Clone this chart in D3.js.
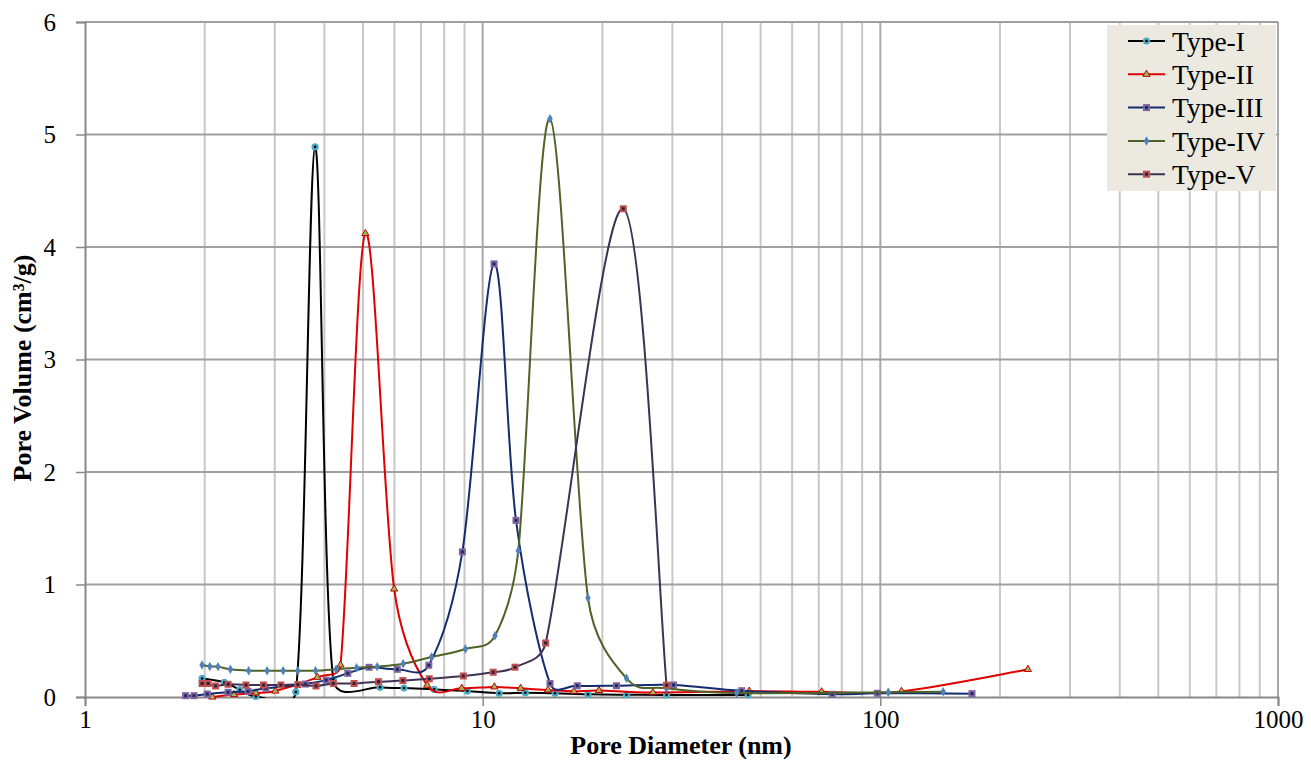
<!DOCTYPE html>
<html>
<head>
<meta charset="utf-8">
<script src="https://cdn.jsdelivr.net/npm/d3@7"></script>
<style>
  body { margin: 0; background: #fff; }
  text { font-family: "Liberation Serif", "Times New Roman", serif; }
</style>
</head>
<body>
<svg id="chart" width="1311" height="761"></svg>
<script>
// pore diameter (nm) / pore volume (cm3/g)
var series_names = ["Type-I", "Type-II", "Type-III", "Type-IV", "Type-V"];

var type1_d = [1.97, 2.24, 2.45, 2.69, 3.39, 3.79, 4.21, 5.52, 6.34, 7.55, 9.15, 11.0, 12.8, 15.2, 18.4, 23.0, 29.0, 46.5];
var type1_v = [0.165, 0.13, 0.065, 0.005, 0.045, 4.89, 0.155, 0.086, 0.08, 0.068, 0.053, 0.033, 0.038, 0.033, 0.024, 0.02, 0.018, 0.018];

var type2_d = [2.09, 2.37, 2.69, 3.01, 3.84, 4.39, 5.07, 5.99, 7.25, 8.86, 10.7, 12.46, 14.6, 16.97, 19.6, 26.8, 46.8, 71.2, 113, 235];
var type2_v = [0.0, 0.022, 0.036, 0.053, 0.175, 0.285, 4.12, 0.96, 0.105, 0.077, 0.09, 0.077, 0.062, 0.05, 0.058, 0.04, 0.052, 0.046, 0.05, 0.245];

var type3_d = [1.79, 1.88, 2.03, 2.29, 2.57, 2.85, 3.58, 4.04, 4.58, 5.18, 6.1, 7.32, 8.89, 10.68, 12.13, 14.77, 17.3, 21.7, 30.2, 44.8, 75.7, 98.3, 170];
var type3_v = [0.012, 0.012, 0.027, 0.042, 0.05, 0.077, 0.115, 0.15, 0.21, 0.264, 0.246, 0.282, 1.29, 3.85, 1.57, 0.12, 0.10, 0.10, 0.107, 0.056, 0.024, 0.033, 0.03];

var type4_d = [1.97, 2.06, 2.16, 2.32, 2.58, 2.87, 3.15, 3.43, 3.80, 4.28, 4.82, 5.43, 6.31, 7.44, 9.05, 10.74, 12.29, 14.77, 18.4, 23.0, 29.0, 43.5, 104.7, 143.9];
var type4_v = [0.284, 0.272, 0.27, 0.246, 0.234, 0.234, 0.234, 0.234, 0.234, 0.246, 0.26, 0.27, 0.295, 0.355, 0.427, 0.545, 1.30, 5.14, 0.88, 0.166, 0.077, 0.035, 0.042, 0.047];

var type5_d = [1.97, 2.04, 2.13, 2.29, 2.54, 2.81, 3.11, 3.43, 3.81, 4.21, 4.75, 5.47, 6.30, 7.34, 8.94, 10.63, 12.06, 14.4, 22.57, 29.0];
var type5_v = [0.12, 0.12, 0.098, 0.113, 0.107, 0.107, 0.107, 0.11, 0.098, 0.12, 0.12, 0.136, 0.146, 0.162, 0.187, 0.22, 0.265, 0.48, 4.34, 0.105];

var x_ticks = [1, 10, 100, 1000];
var y_ticks = [0, 1, 2, 3, 4, 5, 6];

var line_colors = ["#000000", "#E00000", "#122C6E", "#4F6228", "#3F3151"];

var svg = d3.select("#chart");
var plot_left = 85, plot_right = 1278, plot_top = 22, plot_bottom = 697;

var x = d3.scaleLog().domain([1, 1000]).range([plot_left, plot_right]);
var y = d3.scaleLinear().domain([0, 6]).range([plot_bottom, plot_top]);

// vertical grid: every 1..9 per decade
var minor = [];
[1, 10, 100].forEach(function (dec) {
    for (var k = 2; k <= 9; k++) minor.push(dec * k);
});
svg.append("g").selectAll("line").data(minor).enter().append("line")
    .attr("x1", d => x(d)).attr("x2", d => x(d))
    .attr("y1", plot_top).attr("y2", plot_bottom)
    .attr("stroke", "#C8C8C8").attr("stroke-width", 2);
svg.append("g").selectAll("line").data([10, 100, 1000]).enter().append("line")
    .attr("x1", d => x(d)).attr("x2", d => x(d))
    .attr("y1", plot_top).attr("y2", plot_bottom)
    .attr("stroke", "#A8A8A8").attr("stroke-width", 2);

// horizontal grid
svg.append("g").selectAll("line").data(y_ticks.slice(1)).enter().append("line")
    .attr("x1", plot_left).attr("x2", plot_right)
    .attr("y1", d => y(d)).attr("y2", d => y(d))
    .attr("stroke", "#A0A0A0").attr("stroke-width", 2);

// axes
var xAxis = svg.append("g").attr("transform", "translate(0," + plot_bottom + ")")
    .call(d3.axisBottom(x).tickValues(x_ticks).tickFormat(d3.format("d")).tickSize(9).tickPadding(4));
var yAxis = svg.append("g").attr("transform", "translate(" + plot_left + ",0)")
    .call(d3.axisLeft(y).tickValues(y_ticks).tickFormat(d3.format("d")).tickSize(9).tickPadding(20));
[xAxis, yAxis].forEach(function (a) {
    a.select(".domain").attr("stroke", "#888").attr("stroke-width", 2);
    a.selectAll(".tick line").attr("stroke", "#888").attr("stroke-width", 1.5);
    a.selectAll(".tick text").attr("font-family", "Liberation Serif").attr("font-size", 25).attr("fill", "#000");
});
xAxis.selectAll(".tick text").attr("dy", "0.71em");

// axis titles
svg.append("text").attr("x", 681).attr("y", 754).attr("text-anchor", "middle")
    .attr("font-size", 26).attr("font-weight", "bold").text("Pore Diameter (nm)");
svg.append("text").attr("transform", "translate(31,368) rotate(-90)").attr("text-anchor", "middle")
    .attr("font-size", 26).attr("font-weight", "bold").text("Pore Volume (cm³/g)");

// series
var all_series = [
    [type1_d, type1_v], [type2_d, type2_v], [type3_d, type3_v], [type4_d, type4_v], [type5_d, type5_v]
].map(function (s, i) {
    return { name: series_names[i], color: line_colors[i], points: s[0].map((d, j) => [d, s[1][j]]) };
});

// spreadsheet-style smoothing: catmull-rom bezier (1/6) with control arms capped at half the segment
function smooth_path(points) {
    var p = points.map(d => [x(d[0]), y(d[1])]);
    var path = d3.path();
    var dist = (a, b) => Math.hypot(b[0] - a[0], b[1] - a[1]);
    path.moveTo(p[0][0], p[0][1]);
    for (var i = 0; i < p.length - 1; i++) {
        var p0 = p[i - 1] || p[i], p1 = p[i], p2 = p[i + 1], p3 = p[i + 2] || p[i + 1];
        var d12 = dist(p1, p2), d02 = dist(p0, p2), d13 = dist(p1, p3);
        var f0 = 1 / 6, f3 = 1 / 6;
        if (d02 / 6 >= d12 / 2 && d02 > 0) f0 = d12 / d02 / 2;
        if (d13 / 6 >= d12 / 2 && d13 > 0) f3 = d12 / d13 / 2;
        path.bezierCurveTo(
            p1[0] + (p2[0] - p0[0]) * f0, p1[1] + (p2[1] - p0[1]) * f0,
            p2[0] - (p3[0] - p1[0]) * f3, p2[1] - (p3[1] - p1[1]) * f3,
            p2[0], p2[1]);
    }
    return path.toString();
}

function draw_marker(g, i) {
    if (i === 0) {
        g.append("circle").attr("r", 3.6).attr("fill", "#4BACC6");
        g.append("circle").attr("r", 1.3).attr("fill", "#000");
    } else if (i === 1) {
        g.append("path").attr("d", d3.symbol(d3.symbolTriangle, 22)())
            .attr("fill", "#9BBB59").attr("stroke", "#C00000").attr("stroke-width", 1);
    } else if (i === 2) {
        g.append("rect").attr("x", -3.5).attr("y", -3.5).attr("width", 7).attr("height", 7).attr("fill", "#8064A2");
        g.append("rect").attr("x", -1.5).attr("y", -1.5).attr("width", 3).attr("height", 3).attr("fill", "#1F2A5E");
    } else if (i === 3) {
        g.append("path").attr("d", d3.symbol(d3.symbolDiamond, 26)()).attr("fill", "#4F81BD");
    } else {
        g.append("rect").attr("x", -3.5).attr("y", -3.5).attr("width", 7).attr("height", 7).attr("fill", "#C0504D");
        g.append("rect").attr("x", -1.5).attr("y", -1.5).attr("width", 3).attr("height", 3).attr("fill", "#2B2040");
    }
}

svg.append("clipPath").attr("id", "plot-clip").append("rect")
    .attr("x", plot_left).attr("y", 0).attr("width", plot_right - plot_left).attr("height", plot_bottom + 1);

all_series.forEach(function (s, i) {
    var g = svg.append("g").attr("class", "series");
    g.append("path").attr("d", smooth_path(s.points)).attr("fill", "none")
        .attr("clip-path", "url(#plot-clip)")
        .attr("stroke", s.color).attr("stroke-width", 2);
    g.selectAll("g.mk").data(s.points).enter().append("g").attr("class", "mk")
        .attr("transform", d => "translate(" + x(d[0]) + "," + y(d[1]) + ")")
        .each(function () { draw_marker(d3.select(this), i); });
});

// legend
var legend = svg.append("g").attr("transform", "translate(1107,25)");
legend.append("rect").attr("width", 169).attr("height", 166).attr("fill", "#ECEAE0");
series_names.forEach(function (name, i) {
    var row = legend.append("g").attr("transform", "translate(0," + (16 + i * 33.3) + ")");
    row.append("line").attr("x1", 21).attr("x2", 58).attr("stroke", line_colors[i]).attr("stroke-width", 2);
    draw_marker(row.append("g").attr("transform", "translate(39.5,0)"), i);
    row.append("text").attr("x", 65).attr("dy", "0.35em").attr("font-size", 27.5).text(name);
});
</script>
</body>
</html>
